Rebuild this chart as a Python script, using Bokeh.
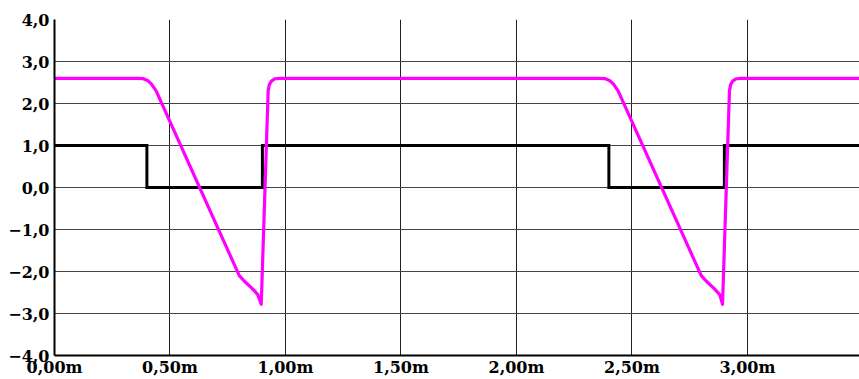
from bokeh.plotting import figure
from bokeh.models import Range1d, FixedTicker
from bokeh.embed import file_html
from bokeh.resources import INLINE

# Digital signal (square wave) and analog response, position in metres
square_x = [0.00, 0.40, 0.40, 0.90, 0.90, 2.40, 2.40, 2.90, 2.90, 3.50]
square_y = [1.0, 1.0, 0.0, 0.0, 1.0, 1.0, 0.0, 0.0, 1.0, 1.0]

wave_x = [0.00, 0.36, 0.385, 0.405, 0.42, 0.44, 0.80, 0.82, 0.855, 0.88, 0.895,
          0.925, 0.93, 0.94, 0.955, 0.975,
          2.36, 2.385, 2.405, 2.42, 2.44, 2.80, 2.82, 2.855, 2.88, 2.892,
          2.922, 2.927, 2.937, 2.952, 2.972, 3.50]
wave_y = [2.60, 2.60, 2.59, 2.54, 2.46, 2.30, -2.10, -2.22, -2.40, -2.55, -2.78,
          2.30, 2.45, 2.54, 2.59, 2.60,
          2.60, 2.59, 2.54, 2.46, 2.30, -2.10, -2.22, -2.40, -2.55, -2.78,
          2.30, 2.45, 2.54, 2.59, 2.60, 2.60]

x_ticks = [0.0, 0.5, 1.0, 1.5, 2.0, 2.5, 3.0]
x_labels = ["0,00m", "0,50m", "1,00m", "1,50m", "2,00m", "2,50m", "3,00m"]
y_ticks = [-4, -3, -2, -1, 0, 1, 2, 3, 4]
y_labels = ["\u22124,0", "\u22123,0", "\u22122,0", "\u22121,0", "0,0", "1,0", "2,0", "3,0", "4,0"]

p = figure(width=859, height=379, output_backend="svg", toolbar_location=None,
           x_range=Range1d(0, 3.485), y_range=Range1d(-4, 4),
           min_border_left=54, min_border_right=0, min_border_top=19, min_border_bottom=0)
p.outline_line_color = None
p.background_fill_color = "white"

p.xaxis.ticker = FixedTicker(ticks=x_ticks)
p.yaxis.ticker = FixedTicker(ticks=y_ticks)
p.xaxis.major_label_overrides = dict(zip(x_ticks, x_labels))
p.yaxis.major_label_overrides = dict(zip(y_ticks, y_labels))

for ax in (p.xaxis, p.yaxis):
    ax.major_tick_line_color = None
    ax.minor_tick_line_color = None
    ax.major_tick_in = 0
    ax.major_tick_out = 0
    ax.minor_tick_in = 0
    ax.minor_tick_out = 0
    ax.axis_line_color = "black"
    ax.axis_line_width = 2
    ax.major_label_text_font = "DejaVu Serif"
    ax.major_label_text_font_style = "bold"
    ax.major_label_text_font_size = "16px"
    ax.major_label_text_color = "black"
p.xaxis.major_label_standoff = 2
p.yaxis.major_label_standoff = 5

p.xgrid.ticker = FixedTicker(ticks=[0.5, 1.0, 1.5, 2.0, 2.5, 3.0])
p.ygrid.ticker = FixedTicker(ticks=[-3, -2, -1, 0, 1, 2, 3, 4])
p.xgrid.grid_line_color = "#222222"
p.ygrid.grid_line_color = "#444444"
p.xgrid.grid_line_width = 1
p.ygrid.grid_line_width = 1
p.xgrid.grid_line_alpha = 1
p.ygrid.grid_line_alpha = 1

p.line(square_x, square_y, line_color="black", line_width=3, line_join="miter")
p.line(wave_x, wave_y, line_color="#ff00ff", line_width=3.2, line_join="round")

open("out.html", "w").write(file_html(p, INLINE))
